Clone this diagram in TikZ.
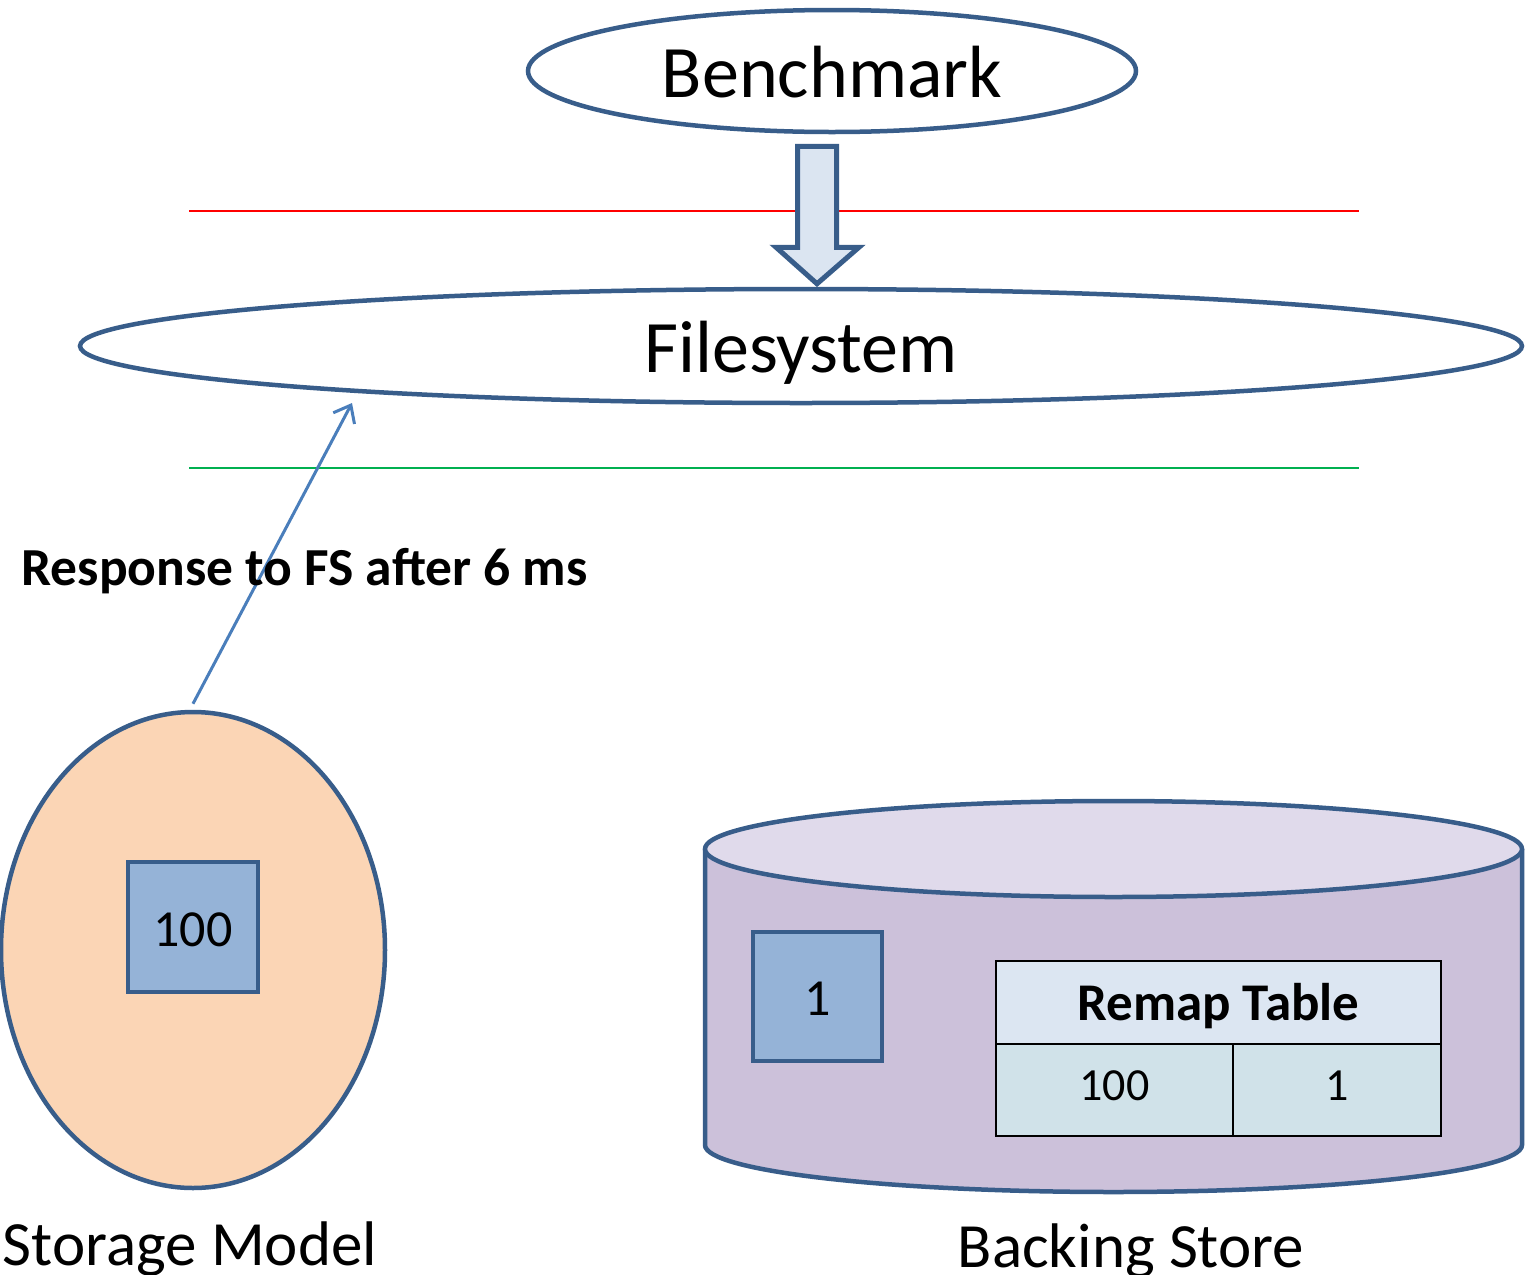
\documentclass[tikz,border=0pt]{standalone}
\usepackage{fontspec}
\setmainfont{Carlito}
\usetikzlibrary{shapes.geometric,arrows.meta,calc}

\definecolor{edgeblue}{RGB}{56,93,138}
\definecolor{linkblue}{RGB}{74,126,187}
\definecolor{arrowfill}{RGB}{219,229,241}
\definecolor{peach}{RGB}{251,213,181}
\definecolor{blockfill}{RGB}{149,179,215}
\definecolor{cylbody}{RGB}{204,193,218}
\definecolor{cyltop}{RGB}{224,218,235}
\definecolor{headfill}{RGB}{220,230,242}
\definecolor{rowfill}{RGB}{208,226,233}
\definecolor{layerred}{RGB}{255,0,0}
\definecolor{layergreen}{RGB}{0,176,80}

\tikzset{
  oval/.style={ellipse, draw=edgeblue, line width=4.5pt, inner sep=0pt},
  block/.style={rectangle, draw=edgeblue, fill=blockfill, line width=4.5pt, inner sep=0pt},
  layerline/.style={line width=2pt},
  cell/.style={rectangle, draw=black, line width=2.5pt, inner sep=0pt},
  bigtext/.style={font=\fontsize{74}{80}\selectfont, anchor=base},
  labeltext/.style={font=\fontsize{63}{70}\selectfont, anchor=base},
  numtext/.style={font=\fontsize{52}{60}\selectfont, anchor=base},
  celltext/.style={font=\fontsize{46}{52}\selectfont, anchor=base},
}

\begin{document}
\begin{tikzpicture}[x=1pt, y=-1pt]
\useasboundingbox (0,0) rectangle (1527,1275);
\fill[white] (0,0) rectangle (1527,1275);

% layer boundaries
\draw[layerline, layerred] (189,211) -- (1359,211);
\draw[layerline, layergreen] (189,468) -- (1359,468);

% benchmark and filesystem
\node[oval, fill=white, minimum width=608pt, minimum height=122pt] (bench) at (832,71) {};
\node[bigtext] (benchlabel) at (832,97) {Benchmark};
\node[oval, minimum width=1442pt, minimum height=114pt] (fs) at (801,346) {};
\node[bigtext] (fslabel) at (801,372) {Filesystem};

% block arrow from the benchmark down to the filesystem
\coordinate (atop) at ($(bench.south)+(-15,12)$);
\coordinate (atip) at ($(fs.north)+(16,-3)$);
\draw[edgeblue, fill=arrowfill, line width=5pt, line join=miter]
  ($(atop)+(-19.5,0)$) -- ($(atop)+(19.5,0)$) -- ($(atop)+(19.5,101)$)
  -- ($(atop)+(42,101)$) -- (atip) -- ($(atop)+(-41,101)$)
  -- ($(atop)+(-19.5,101)$) -- cycle;

% storage model
\node[oval, fill=peach, minimum width=384pt, minimum height=476pt] (storage) at (193,950) {};
\node[block, minimum size=130pt] (sblock) at (193,927) {};
\node[numtext] (sblocklabel) at (193,946) {100};
\node[labeltext] (storagelabel) at (190,1265) {Storage Model};

% response path
\coordinate (fsin) at (352,403);
\draw[linkblue, line width=3pt, -{Straight Barb[length=15pt, width=24pt]}]
  ($(storage.north)+(0,-6)$) -- (fsin);
\node[font=\fontsize{53.5}{60}\bfseries\selectfont, anchor=base west] (resp) at (18,585) {Response to FS after 6 ms};

% backing store cylinder
\path[fill=cylbody] (705,849) -- (705,1145)
  arc[start angle=180, end angle=0, x radius=408.5, y radius=47] -- (1522,849) -- cycle;
\draw[edgeblue, line width=4.5pt] (705,849) -- (705,1145)
  arc[start angle=180, end angle=0, x radius=408.5, y radius=47] -- (1522,849);
\draw[edgeblue, fill=cyltop, line width=4.5pt] (1113.5,849) ellipse [x radius=408.5, y radius=48];
\node[block, minimum size=129pt] (bblock) at (817.5,996.5) {};
\node[numtext] (bblocklabel) at (817.5,1015) {1};
\node[labeltext] (backlabel) at (1131,1267) {Backing Store};

% remap table
\node[cell, fill=headfill, minimum width=445pt, minimum height=83pt] (thead) at (1218.5,1002.5) {};
\node[cell, fill=rowfill, minimum width=237pt, minimum height=92pt] (tleft) at (1114.5,1090) {};
\node[cell, fill=rowfill, minimum width=208pt, minimum height=92pt] (tright) at (1337,1090) {};
\node[font=\fontsize{53}{60}\bfseries\selectfont, anchor=base] (theadlabel) at (1218.5,1020) {Remap Table};
\node[celltext] (tleftlabel) at (1114.5,1100) {100};
\node[celltext] (trightlabel) at (1337,1100) {1};
\end{tikzpicture}
\end{document}
